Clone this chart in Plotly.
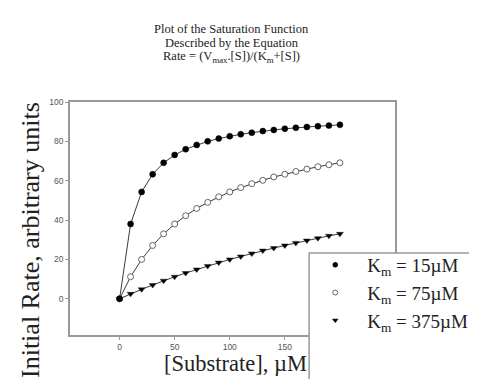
import plotly.graph_objects as go

substrate = [0, 10, 20, 30, 40, 50, 60, 70, 80, 90, 100, 110, 120, 130, 140, 150, 160, 170, 180, 190, 200]
rate_km15 = [0, 38.0, 54.3, 63.3, 69.1, 73.1, 76.0, 78.2, 80.0, 81.4, 82.6, 83.6, 84.4, 85.2, 85.8, 86.4, 86.9, 87.3, 87.7, 88.0, 88.4]
rate_km75 = [0, 11.2, 20.0, 27.1, 33.0, 38.0, 42.2, 45.9, 49.0, 51.8, 54.3, 56.5, 58.5, 60.2, 61.9, 63.3, 64.7, 65.9, 67.1, 68.1, 69.1]
rate_km375 = [0, 2.5, 4.8, 7.0, 9.2, 11.2, 13.1, 14.9, 16.7, 18.4, 20.0, 21.5, 23.0, 24.5, 25.8, 27.1, 28.4, 29.6, 30.8, 32.0, 33.0]
series_names = ["K<sub>m</sub> = 15µM", "K<sub>m</sub> = 75µM", "K<sub>m</sub> = 375µM"]
title_lines = ["Plot of the Saturation Function", "Described by the Equation",
               "Rate = (V<sub>max</sub>.[S])/(K<sub>m</sub>+[S])"]

SERIF = "Liberation Serif, Times New Roman, serif"
SANS = "Liberation Sans, Arial, sans-serif"

markers = [
    dict(symbol="circle", color="black", line=dict(color="black", width=0.5)),
    dict(symbol="circle", color="white", line=dict(color="#666666", width=1)),
    dict(symbol="triangle-down", color="black", line=dict(color="#222", width=0.5)),
]
series = [rate_km15, rate_km75, rate_km375]

fig = go.Figure()
# data traces (drawn so the filled circles end on top)
for i in [2, 1, 0]:
    fig.add_trace(go.Scatter(
        x=substrate, y=series[i], mode="lines+markers", showlegend=False,
        line=dict(color="#3a3a3a", width=1),
        marker=dict(size=6, **markers[i])))
# legend entries (marker only)
for i in range(3):
    fig.add_trace(go.Scatter(
        x=[None], y=[None], mode="markers", name=series_names[i],
        legendgroup=f"g{i}", legendrank=i + 1,
        marker=dict(size=5, **markers[i])))

axis_common = dict(showline=True, linecolor="#999999", linewidth=1.5, mirror=True,
                   ticks="outside", ticklen=3, tickcolor="#999999", tickwidth=1,
                   showgrid=False, zeroline=False,
                   tickfont=dict(family=SANS, size=8.5, color="#555555"))

fig.update_xaxes(range=[-45, 250], tick0=0, dtick=50, **axis_common)
fig.update_yaxes(range=[-18.4, 100], tick0=0, dtick=20, **axis_common)

# legend frame (extends past figure edge)
fig.add_shape(type="rect", xref="paper", yref="paper",
              x0=(307 - 62) / 333, x1=1.4, y0=-0.5, y1=(327 - 245) / 233,
              fillcolor="white", line=dict(color="#999999", width=1.5), layer="above")

for line_text, ypx in zip(title_lines, [21, 35, 49]):
    fig.add_annotation(
        text=line_text, xref="paper", yref="paper", x=0.497, y=(327 - ypx) / 233,
        xanchor="center", yanchor="middle", showarrow=False,
        font=dict(family=SERIF, size=12.5, color="#222222"))
fig.add_annotation(
    text="Initial Rate, arbitrary units", xref="paper", yref="paper",
    x=(21 - 62) / 333, y=(327 - 232) / 233, xanchor="center", yanchor="middle",
    textangle=-90, showarrow=False, font=dict(family=SERIF, size=26, color="#222222"))
fig.add_annotation(
    text="[Substrate], µM", xref="paper", yref="paper",
    x=(232 - 62) / 333, y=(327 - 355) / 233, xanchor="center", yanchor="middle",
    showarrow=False, font=dict(family=SERIF, size=22.5, color="#222222"))

fig.update_layout(
    width=477, height=379,
    margin=dict(l=62, r=82, t=94, b=52),
    paper_bgcolor="white", plot_bgcolor="white",
    showlegend=True,
    legend=dict(x=(301 - 62) / 333, y=(327 - 238) / 233, xanchor="left", yanchor="top",
                bgcolor="rgba(0,0,0,0)", borderwidth=0, itemwidth=54,
                tracegroupgap=0, traceorder="grouped",
                font=dict(family=SERIF, size=19, color="#222222")),
)

fig.write_html("out.html")
